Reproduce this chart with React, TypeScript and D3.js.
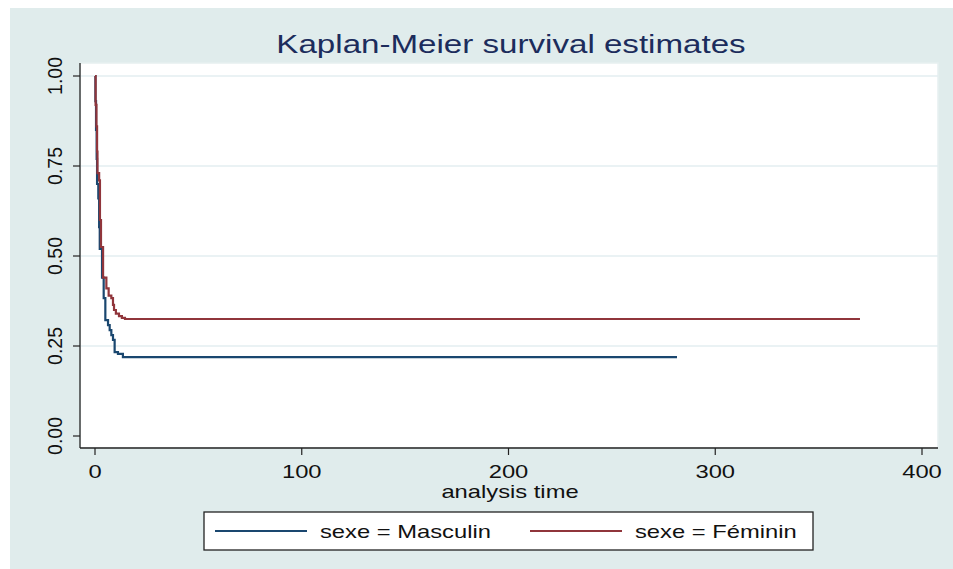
import React from 'react';
import * as d3 from 'd3';

// Kaplan-Meier step points (time, survival)
const maleTimes = [0, 0.2, 0.5, 0.8, 1.0, 1.6, 2.0, 2.3, 3.4, 4.2, 5.0, 6.3, 7.1, 7.9, 8.7, 9.5, 11.1, 13.5, 281.5];
const maleSurv = [1.0, 0.93, 0.85, 0.77, 0.7, 0.66, 0.58, 0.52, 0.44, 0.383, 0.322, 0.308, 0.294, 0.28, 0.267, 0.233, 0.228, 0.219, 0.219];

const femaleTimes = [0, 0.3, 0.7, 1.0, 1.2, 2.0, 2.4, 2.9, 3.9, 5.5, 6.6, 7.9, 8.7, 9.2, 10.1, 11.6, 13.0, 14.5, 370];
const femaleSurv = [1.0, 0.92, 0.86, 0.79, 0.73, 0.71, 0.6, 0.525, 0.44, 0.41, 0.39, 0.383, 0.364, 0.35, 0.34, 0.333, 0.328, 0.325, 0.325];

const xTicks = [0, 100, 200, 300, 400];
const yTicks = [0, 0.25, 0.5, 0.75, 1];
const gridTicks = [0.25, 0.5, 0.75, 1];

const seriesLabels = ['sexe = Masculin', 'sexe = Féminin'];
const seriesColors = ['#1a476f', '#90353b'];

const W = 953;
const H = 569;
const plot = { left: 80, right: 938, top: 63, bottom: 448 };
const FONT = 'Liberation Sans, Arial, sans-serif';
const SX = 1.25; // the source image is stretched horizontally

type Pt = [number, number];

function Txt({ x, y, size, anchor = 'start', fill = '#111', children }: any) {
  return (
    <text
      transform={`translate(${x},${y}) scale(${SX},1)`}
      fontSize={size}
      fontFamily={FONT}
      textAnchor={anchor}
      fill={fill}
    >
      {children}
    </text>
  );
}

export default function App() {
  const x = d3.scaleLinear().domain([0, 400]).range([95, 922]);
  const y = d3.scaleLinear().domain([0, 1]).range([436, 76]);

  const line = d3
    .line<Pt>()
    .x((d) => x(d[0]))
    .y((d) => y(d[1]))
    .curve(d3.curveStepAfter);

  const male: Pt[] = maleTimes.map((t, i) => [t, maleSurv[i]]);
  const female: Pt[] = femaleTimes.map((t, i) => [t, femaleSurv[i]]);

  return (
    <svg
      width={W}
      height={H}
      style={{ position: 'absolute', left: 0, top: 0, background: '#fff' }}
    >
      <rect x={10} y={8} width={W - 10} height={H - 8} fill="#e0ecec" />
      <rect
        x={plot.left}
        y={plot.top}
        width={plot.right - plot.left}
        height={plot.bottom - plot.top}
        fill="#fff"
        stroke="#e6eff0"
        strokeWidth={1.5}
      />

      {gridTicks.map((v) => (
        <line
          key={v}
          x1={plot.left}
          x2={plot.right}
          y1={y(v)}
          y2={y(v)}
          stroke="#e3eef0"
          strokeWidth={1.5}
        />
      ))}

      <Txt x={511} y={53} size={26.5} anchor="middle" fill="#1c2c5c">
        Kaplan-Meier survival estimates
      </Txt>

      <path d={line(male) ?? ''} fill="none" stroke={seriesColors[0]} strokeWidth={2.2} />
      <path d={line(female) ?? ''} fill="none" stroke={seriesColors[1]} strokeWidth={2.2} />

      {/* y axis */}
      <line x1={plot.left} x2={plot.left} y1={plot.top} y2={plot.bottom} stroke="#222" strokeWidth={1.3} />
      {yTicks.map((v) => (
        <g key={v}>
          <line x1={73} x2={plot.left} y1={y(v)} y2={y(v)} stroke="#222" strokeWidth={1.2} />
          <text
            transform={`translate(62,${y(v)}) rotate(-90)`}
            fontSize={19.5}
            fontFamily={FONT}
            textAnchor="middle"
            fill="#111"
          >
            {d3.format('.2f')(v)}
          </text>
        </g>
      ))}

      {/* x axis */}
      <line x1={plot.left} x2={plot.right} y1={plot.bottom} y2={plot.bottom} stroke="#222" strokeWidth={1.3} />
      {xTicks.map((v) => (
        <g key={v}>
          <line x1={x(v)} x2={x(v)} y1={plot.bottom} y2={455} stroke="#222" strokeWidth={1.2} />
          <Txt x={x(v)} y={478} size={19} anchor="middle">
            {v}
          </Txt>
        </g>
      ))}
      <Txt x={510} y={498} size={19} anchor="middle">
        analysis time
      </Txt>

      {/* legend */}
      <rect x={204} y={512} width={609} height={38} fill="#fff" stroke="#222" strokeWidth={1.3} />
      {seriesLabels.map((lab, i) => (
        <g key={lab}>
          <line
            x1={215 + i * 315}
            x2={307 + i * 315}
            y1={531}
            y2={531}
            stroke={seriesColors[i]}
            strokeWidth={2.2}
          />
          <Txt x={320 + i * 315} y={538} size={19}>
            {lab}
          </Txt>
        </g>
      ))}
    </svg>
  );
}
